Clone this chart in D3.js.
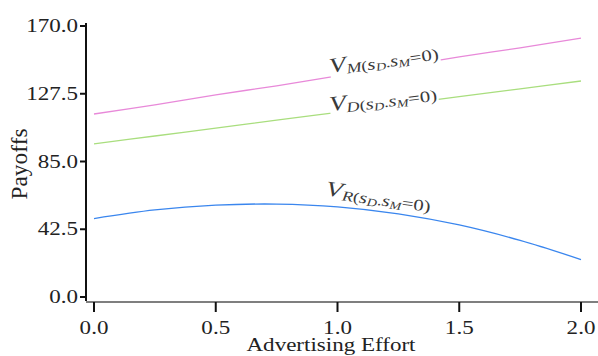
<!DOCTYPE html>
<html>
<head>
<meta charset="utf-8">
<script src="https://cdn.jsdelivr.net/npm/d3@7"></script>
<style>
  body { margin: 0; background: #fff; }
  svg { display: block; }
  .tickText { font-family: "Liberation Serif", "DejaVu Serif", serif; font-size: 18px; fill: #222; }
  .aText { font-family: "Liberation Serif", "DejaVu Serif", serif; fill: #222; }
  .curveLabel { font-family: "Liberation Serif", "DejaVu Serif", serif; font-style: italic; fill: #3a3a3a; }
</style>
</head>
<body>
<div id="chart"></div>
<script>
// values
var effort = [0, 0.25, 0.5, 0.75, 1.0, 1.25, 1.5, 1.75, 2.0];
var vM = [114.8, 120.5, 126.8, 132.5, 138.7, 144.4, 150.6, 156.3, 162.4];
var vD = [96.0, 101.0, 105.9, 110.9, 115.8, 120.7, 125.7, 130.6, 135.5];
var vR = [49.2, 54.6, 57.6, 58.3, 56.6, 52.2, 45.2, 35.5, 23.5];

var xTicks = [0, 0.5, 1.0, 1.5, 2.0];
var yTicks = [0, 42.5, 85, 127.5, 170];

var svgWidth = 598;
var svgHeight = 356;
var stretch = 1.28; // text in the picture is wider than it is tall

var svg = d3.select('#chart')
    .append('svg')
    .attr('width', svgWidth)
    .attr('height', svgHeight);

var xScale = d3.scaleLinear()
    .domain([0, 2])
    .range([94, 581]);

var yScale = d3.scaleLinear()
    .domain([0, 170])
    .range([297, 26]);

// y axis
svg.append('line')
    .attr('x1', 86).attr('x2', 86)
    .attr('y1', 23).attr('y2', 301)
    .attr('stroke', '#111')
    .attr('stroke-width', 2);

svg.selectAll('line.yTick')
    .data(yTicks)
    .enter()
    .append('line')
    .attr('class', 'yTick')
    .attr('x1', 80).attr('x2', 86)
    .attr('y1', d => yScale(d)).attr('y2', d => yScale(d))
    .attr('stroke', '#111')
    .attr('stroke-width', 2);

svg.selectAll('text.yTickText')
    .data(yTicks)
    .enter()
    .append('text')
    .attr('class', 'yTickText tickText')
    .attr('text-anchor', 'end')
    .attr('transform', d => `translate(78, ${yScale(d) + 6}) scale(${stretch},1)`)
    .text(d => d.toFixed(1));

// x axis
svg.append('line')
    .attr('x1', 86).attr('x2', 598)
    .attr('y1', 302).attr('y2', 302)
    .attr('stroke', '#555')
    .attr('stroke-width', 1.5);

svg.selectAll('line.xTick')
    .data(xTicks)
    .enter()
    .append('line')
    .attr('class', 'xTick')
    .attr('x1', d => xScale(d)).attr('x2', d => xScale(d))
    .attr('y1', 302).attr('y2', 312)
    .attr('stroke', '#111')
    .attr('stroke-width', 2);

svg.selectAll('text.xTickText')
    .data(xTicks)
    .enter()
    .append('text')
    .attr('class', 'xTickText tickText')
    .attr('text-anchor', 'middle')
    .attr('transform', d => `translate(${xScale(d)}, 334) scale(${stretch},1)`)
    .text(d => d.toFixed(1));

// axis titles
svg.append('text')
    .attr('class', 'aText')
    .attr('text-anchor', 'middle')
    .attr('font-size', '18px')
    .attr('transform', `translate(331, 351) scale(${stretch},1)`)
    .text('Advertising Effort');

svg.append('text')
    .attr('class', 'aText')
    .attr('text-anchor', 'middle')
    .attr('font-size', '18px')
    .attr('transform', 'translate(27, 164) rotate(-90) scale(1.3,1.28)')
    .text('Payoffs');

// curves
var series = [
    {key: 'M', values: vM, color: '#e889d9', gap: true, lx: 0.97, dy: -4},
    {key: 'D', values: vD, color: '#a9de7e', gap: true, lx: 0.97, dy: -2},
    {key: 'R', values: vR, color: '#3a86ee', gap: false, lx: 0.95, dy: -11}
];

var line = d3.line()
    .x(d => xScale(d[0]))
    .y(d => yScale(d[1]))
    .curve(d3.curveCatmullRom);

series.forEach(function(s) {
    var pts = effort.map((e, i) => [e, s.values[i]]);
    svg.append('path')
        .datum(pts)
        .attr('fill', 'none')
        .attr('stroke', s.color)
        .attr('stroke-width', 1.3)
        .attr('d', line);
});

// labels along the curves
function valueAt(values, x) {
    var i = Math.min(Math.floor(x / 0.25), effort.length - 2);
    var t = (x - effort[i]) / 0.25;
    return values[i] + (values[i + 1] - values[i]) * t;
}

series.forEach(function(s) {
    var x0 = s.lx;
    var x1 = s.lx + 0.45;
    var px0 = xScale(x0), py0 = yScale(valueAt(s.values, x0));
    var px1 = xScale(x1), py1 = yScale(valueAt(s.values, x1));
    var angle = Math.atan2(py1 - py0, px1 - px0) * 180 / Math.PI;

    var g = svg.append('g')
        .attr('transform', `translate(${px0}, ${py0 + s.dy}) rotate(${angle}) scale(1.3,1)`);

    var bg = g.append('rect').attr('fill', '#fff');

    var label = g.append('text')
        .attr('class', 'curveLabel')
        .attr('x', 0)
        .attr('y', 0);
    label.append('tspan').attr('font-size', '21px').text('V');
    label.append('tspan').attr('font-size', '14px').attr('dy', 3).text(s.key);
    label.append('tspan').attr('font-size', '14px').attr('font-style', 'normal').text('(');
    label.append('tspan').attr('font-size', '16px').text('s');
    label.append('tspan').attr('font-size', '11px').attr('dy', 2).text('D');
    label.append('tspan').attr('font-size', '14px').attr('dy', -2).attr('font-style', 'normal').text('.');
    label.append('tspan').attr('font-size', '16px').text('s');
    label.append('tspan').attr('font-size', '11px').attr('dy', 2).text('M');
    label.append('tspan').attr('font-size', '16px').attr('dy', -2).attr('font-style', 'normal').text('=0)');

    if (s.gap) {
        var bb = label.node().getBBox();
        bg.attr('x', bb.x)
            .attr('y', bb.y)
            .attr('width', bb.width + 1)
            .attr('height', bb.height + 8);
    } else {
        bg.remove();
    }
});
</script>
</body>
</html>
